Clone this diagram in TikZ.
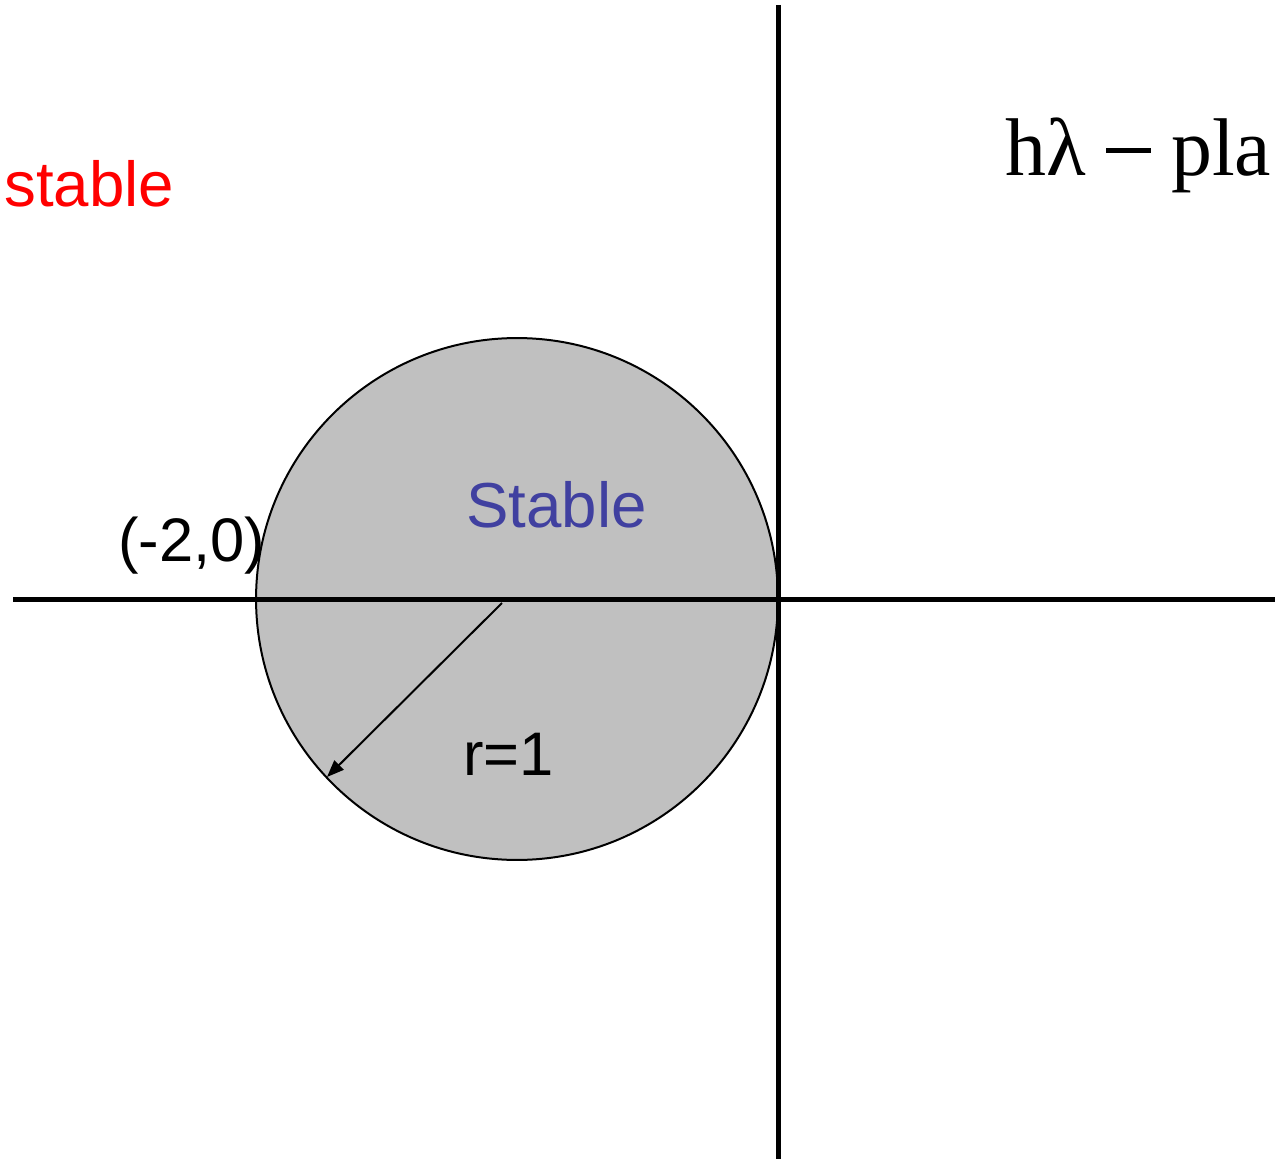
\documentclass[tikz,border=0pt]{standalone}
\usepackage{fontspec}
\setmainfont{Liberation Sans}
\newfontfamily\tnr{Liberation Serif}
\usetikzlibrary{arrows.meta}
\definecolor{diskgray}{RGB}{192,192,192}
\definecolor{stableblue}{RGB}{64,64,160}
\definecolor{stablered}{RGB}{255,0,0}
\begin{document}
\begin{tikzpicture}[x=0.02cm,y=-0.02cm,
  axis/.style={line width=0.1cm,black},
  lbl/.style={inner sep=0pt,anchor=base west,font=\fontsize{36.2pt}{40pt}\selectfont},
  smalllbl/.style={inner sep=0pt,anchor=base west,font=\fontsize{35pt}{40pt}\selectfont},
  planelbl/.style={inner sep=0pt,anchor=base west,font=\tnr\fontsize{46.6pt}{52pt}\selectfont},
  radius arrow/.style={line width=0.04cm,-{Triangle[length=0.34cm,width=0.26cm]}}]
\useasboundingbox (0,0) rectangle (1275,1159);
\fill[white] (0,0) rectangle (1275,1159);
% disk
\node[circle,draw=black,line width=0.04cm,fill=diskgray,minimum size=10.44cm,inner sep=0pt] (disk) at (517,599) {};
% axes
\coordinate (xl) at (13,599);
\coordinate (xr) at (1275,599);
\coordinate (yt) at (778,5);
\coordinate (yb) at (778,1159);
\draw[axis] (xl) -- (xr);
\draw[axis] (yt) -- (yb);
% radius arrow
\coordinate (rs) at (502,603);
\coordinate (re) at (327,777);
\draw[radius arrow] (rs) -- (re);
% labels
\node[lbl,text=stablered] (redlbl) at (4,206) {stable};
\node[lbl,text=stableblue] (bluelbl) at (466,527) {Stable};
\node[smalllbl] (pt) at (118,561) {(-2,0)};
\node[smalllbl] (rlbl) at (463,775) {r=1};
\node[planelbl] (plane) at (1005,175) {hλ \rule[0.27em]{0.54em}{0.06em} pla};
\end{tikzpicture}
\end{document}
